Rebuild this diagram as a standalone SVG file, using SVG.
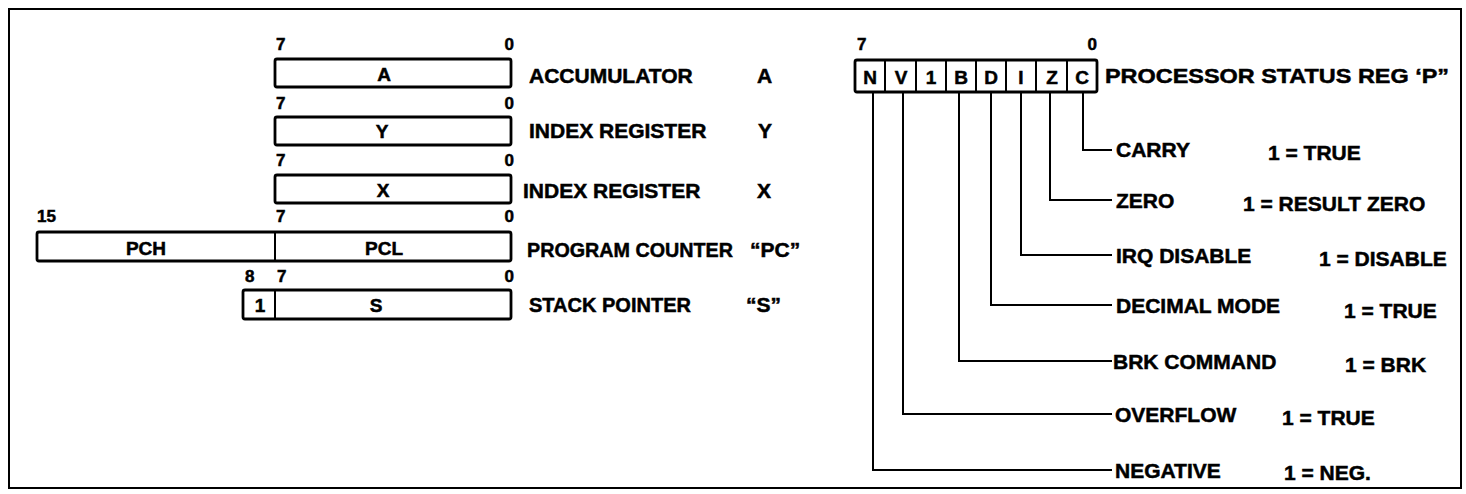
<svg xmlns="http://www.w3.org/2000/svg" width="1466" height="494" viewBox="0 0 1466 494">
<style>
text{font-family:"Liberation Sans",Arial,Helvetica,sans-serif;font-weight:bold;fill:#000;stroke:#000;stroke-width:0.5}
.lbl{font-size:21px}
.bit{font-size:17px}
.in{font-size:19px;text-anchor:middle}
.cell{font-size:19px;text-anchor:middle}
.end{text-anchor:end}
.box{fill:#fff;stroke:#000;stroke-width:2.8}
.div{stroke:#000;stroke-width:2}
.conn{fill:none;stroke:#000;stroke-width:2}
.frame{fill:none;stroke:#000;stroke-width:2}
</style>
<rect width="1466" height="494" fill="#fff"/>
<rect class="frame" x="9" y="9" width="1452" height="479"/>

<g id="reg-A">
<text class="bit" x="276" y="50">7</text>
<text class="bit end" x="514" y="50">0</text>
<rect class="box" x="275" y="59" width="236" height="28" rx="2"/>
<text class="in" x="384" y="81">A</text>
<text class="lbl" x="529" y="83">ACCUMULATOR</text>
<text class="lbl" x="757" y="83">A</text>
</g>

<g id="reg-Y">
<text class="bit" x="276" y="109">7</text>
<text class="bit end" x="514" y="109">0</text>
<rect class="box" x="275" y="117" width="236" height="28" rx="2"/>
<text class="in" x="382" y="138">Y</text>
<text class="lbl" x="529" y="138">INDEX REGISTER</text>
<text class="lbl" x="758" y="138">Y</text>
</g>

<g id="reg-X">
<text class="bit" x="276" y="166">7</text>
<text class="bit end" x="514" y="166">0</text>
<rect class="box" x="275" y="175" width="236" height="28" rx="2"/>
<text class="in" x="383" y="197">X</text>
<text class="lbl" x="523" y="198">INDEX REGISTER</text>
<text class="lbl" x="757" y="198">X</text>
</g>

<g id="reg-PC">
<text class="bit" x="37" y="222">15</text>
<text class="bit" x="276" y="222">7</text>
<text class="bit end" x="514" y="222">0</text>
<rect class="box" x="37" y="232" width="474" height="29" rx="2"/>
<line class="div" x1="275" y1="232" x2="275" y2="261"/>
<text class="in" x="146" y="255">PCH</text>
<text class="in" x="384" y="255">PCL</text>
<text class="lbl" x="527" y="257" textLength="206" lengthAdjust="spacingAndGlyphs">PROGRAM COUNTER</text>
<text class="lbl" x="750" y="257">“PC”</text>
</g>

<g id="reg-S">
<text class="bit" x="245" y="282">8</text>
<text class="bit" x="277" y="282">7</text>
<text class="bit end" x="514" y="282">0</text>
<rect class="box" x="243" y="290" width="268" height="29" rx="2"/>
<line class="div" x1="275" y1="290" x2="275" y2="319"/>
<text class="in" x="260" y="312">1</text>
<text class="in" x="376" y="312">S</text>
<text class="lbl" x="529" y="312" textLength="162" lengthAdjust="spacingAndGlyphs">STACK POINTER</text>
<text class="lbl" x="746" y="312">“S”</text>
</g>

<g id="reg-P">
<text class="bit" x="857" y="50">7</text>
<text class="bit end" x="1097" y="50">0</text>
<rect class="box" x="855" y="60" width="242" height="32" rx="2"/>
<line class="div" x1="885" y1="60" x2="885" y2="92"/>
<line class="div" x1="916" y1="60" x2="916" y2="92"/>
<line class="div" x1="946" y1="60" x2="946" y2="92"/>
<line class="div" x1="976" y1="60" x2="976" y2="92"/>
<line class="div" x1="1006" y1="60" x2="1006" y2="92"/>
<line class="div" x1="1036" y1="60" x2="1036" y2="92"/>
<line class="div" x1="1067" y1="60" x2="1067" y2="92"/>
<text class="cell" x="870" y="84">N</text>
<text class="cell" x="901" y="84">V</text>
<text class="cell" x="931" y="84">1</text>
<text class="cell" x="961" y="84">B</text>
<text class="cell" x="991" y="84">D</text>
<text class="cell" x="1021" y="84">I</text>
<text class="cell" x="1052" y="84">Z</text>
<text class="cell" x="1082" y="84">C</text>
<text class="lbl" x="1105" y="83" textLength="344" lengthAdjust="spacingAndGlyphs">PROCESSOR STATUS REG ‘P”</text>
</g>

<g id="connectors">
<path class="conn" d="M1083 92 V150 H1112"/>
<path class="conn" d="M1050 92 V200 H1112"/>
<path class="conn" d="M1021 92 V255 H1112"/>
<path class="conn" d="M991 92 V305 H1112"/>
<path class="conn" d="M959 92 V361 H1112"/>
<path class="conn" d="M903 92 V414 H1112"/>
<path class="conn" d="M873 92 V470 H1112"/>
</g>

<g id="flag-C">
<text class="lbl" x="1116" y="157">CARRY</text>
<text class="lbl" x="1268" y="160">1 = TRUE</text>
</g>
<g id="flag-Z">
<text class="lbl" x="1116" y="208">ZERO</text>
<text class="lbl" x="1243" y="211">1 = RESULT ZERO</text>
</g>
<g id="flag-I">
<text class="lbl" x="1116" y="263">IRQ DISABLE</text>
<text class="lbl" x="1319" y="266">1 = DISABLE</text>
</g>
<g id="flag-D">
<text class="lbl" x="1116" y="313">DECIMAL MODE</text>
<text class="lbl" x="1344" y="318">1 = TRUE</text>
</g>
<g id="flag-B">
<text class="lbl" x="1113" y="369">BRK COMMAND</text>
<text class="lbl" x="1345" y="372">1 = BRK</text>
</g>
<g id="flag-V">
<text class="lbl" x="1115" y="422">OVERFLOW</text>
<text class="lbl" x="1282" y="425">1 = TRUE</text>
</g>
<g id="flag-N">
<text class="lbl" x="1115" y="478">NEGATIVE</text>
<text class="lbl" x="1284" y="480">1 = NEG.</text>
</g>
</svg>
